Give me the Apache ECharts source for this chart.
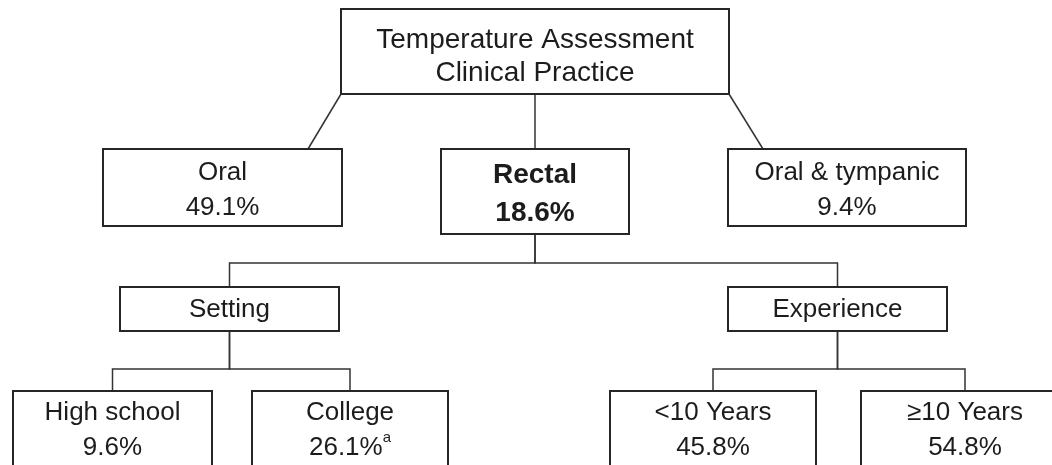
<!DOCTYPE html>
<html>
<head>
<meta charset="utf-8">
<title>Temperature Assessment Clinical Practice</title>
<script src="https://cdn.jsdelivr.net/npm/echarts@6/dist/echarts.min.js"></script>
<style>
  html, body { margin: 0; padding: 0; background: #fff; }
  #chart { width: 1052px; height: 465px; }
</style>
</head>
<body>
<div id="chart"></div>
<script>
// ===== data =====
const nodeTitles = ['Temperature Assessment\nClinical Practice', 'Oral', 'Rectal', 'Oral & tympanic',
  'Setting', 'Experience', 'High school', 'College', '<10 Years', '≥10 Years'];
const nodeShares = [null, 49.1, 18.6, 9.4, null, null, 9.6, 26.1, 45.8, 54.8];
const nodeParents = [-1, 0, 0, 0, 2, 2, 4, 4, 5, 5];
const shareNotes = ['', '', '', '', '', '', '', 'a', '', ''];
const focusNode = 2;

// ===== layout (drawing space is 1052 x 465, same as the page) =====
// [left, top, right, bottom, text centre y]
const boxes = [
  [341, 9, 729, 94, 57],
  [103, 149, 342, 226, 190],
  [441, 149, 629, 234, 194],
  [728, 149, 966, 226, 190],
  [120, 287, 339, 331, 310],
  [728, 287, 947, 331, 310],
  [13, 391, 212, 480, 430],
  [252, 391, 448, 480, 430],
  [610, 391, 816, 480, 430],
  [861, 391, 1069, 480, 430]
];
// where the root links touch the top of each first-level box
const fanEnds = { 1: 308, 2: 535, 3: 763 };
// height of the horizontal bar under each branching node
const busY = { 2: 263, 4: 369, 5: 369 };

const FONT = '"Liberation Sans", Arial, Helvetica, sans-serif';
const INK = '#1c1c1c';
const LINE = '#333';

function centre(b) {
  return [(b[0] + b[2]) / 2, (b[1] + b[3]) / 2];
}

function linkPoints(i) {
  const p = nodeParents[i];
  const pb = boxes[p];
  const cb = boxes[i];
  if (p === 0) {
    const end = fanEnds[i];
    const start = Math.min(Math.max(end, pb[0]), pb[2]);
    return [[start, pb[3]], [end, cb[1]]];
  }
  const px = centre(pb)[0];
  const cx = centre(cb)[0];
  const y = busY[p];
  return [[px, pb[3]], [px, y], [cx, y], [cx, cb[1]]];
}

function boxText(i) {
  if (i === 0) return nodeTitles[0].split('\n').map(s => '{root|' + s + '}').join('\n');
  const st = i === focusNode ? 'bold' : 't';
  let s = '{' + st + '|' + nodeTitles[i] + '}';
  if (nodeShares[i] != null) {
    s += '\n{' + st + '|' + nodeShares[i].toFixed(1) + '%}';
    if (shareNotes[i]) s += '{sup|' + shareNotes[i] + '}';
  }
  return s;
}

const richStyles = {
  root: { fontFamily: FONT, fontSize: 28, lineHeight: 33, fill: INK },
  t: { fontFamily: FONT, fontSize: 26, lineHeight: 35, fill: INK },
  bold: { fontFamily: FONT, fontSize: 28, fontWeight: 'bold', lineHeight: 38, fill: INK },
  sup: { fontFamily: FONT, fontSize: 15, lineHeight: 24, verticalAlign: 'top', fill: INK }
};

const chart = echarts.init(document.getElementById('chart'));

chart.setOption({
  animation: false,
  backgroundColor: '#fff',
  grid: { left: 0, right: 0, top: 0, bottom: 0 },
  xAxis: { type: 'value', min: 0, max: 1052, show: false },
  yAxis: { type: 'value', min: 0, max: 465, inverse: true, show: false },
  series: [
    {
      // connectors: one per child, from its parent box
      type: 'custom',
      clip: false,
      z: 1,
      data: nodeParents.map((p, i) => (p < 0 ? null : centre(boxes[i]))).filter(Boolean),
      renderItem(params, api) {
        const i = params.dataIndex + 1;
        const pts = linkPoints(i).map(pt => api.coord(pt));
        return {
          type: 'polyline',
          shape: { points: pts },
          style: { stroke: LINE, lineWidth: 1.5, fill: null }
        };
      }
    },
    {
      // boxes with their labels
      type: 'custom',
      clip: false,
      z: 2,
      data: boxes.map(b => centre(b)),
      renderItem(params, api) {
        const i = params.dataIndex;
        const b = boxes[i];
        const p0 = api.coord([b[0], b[1]]);
        const size = api.size([b[2] - b[0], b[3] - b[1]]);
        const pc = api.coord([(b[0] + b[2]) / 2, b[4]]);
        return {
          type: 'group',
          children: [
            {
              type: 'rect',
              shape: { x: p0[0], y: p0[1], width: size[0], height: size[1] },
              style: { fill: '#fff', stroke: '#262626', lineWidth: 2 }
            },
            {
              type: 'text',
              style: {
                x: pc[0],
                y: pc[1],
                text: boxText(i),
                align: 'center',
                verticalAlign: 'middle',
                rich: richStyles
              }
            }
          ]
        };
      }
    }
  ]
});

window.addEventListener('resize', () => chart.resize());
</script>
</body>
</html>
